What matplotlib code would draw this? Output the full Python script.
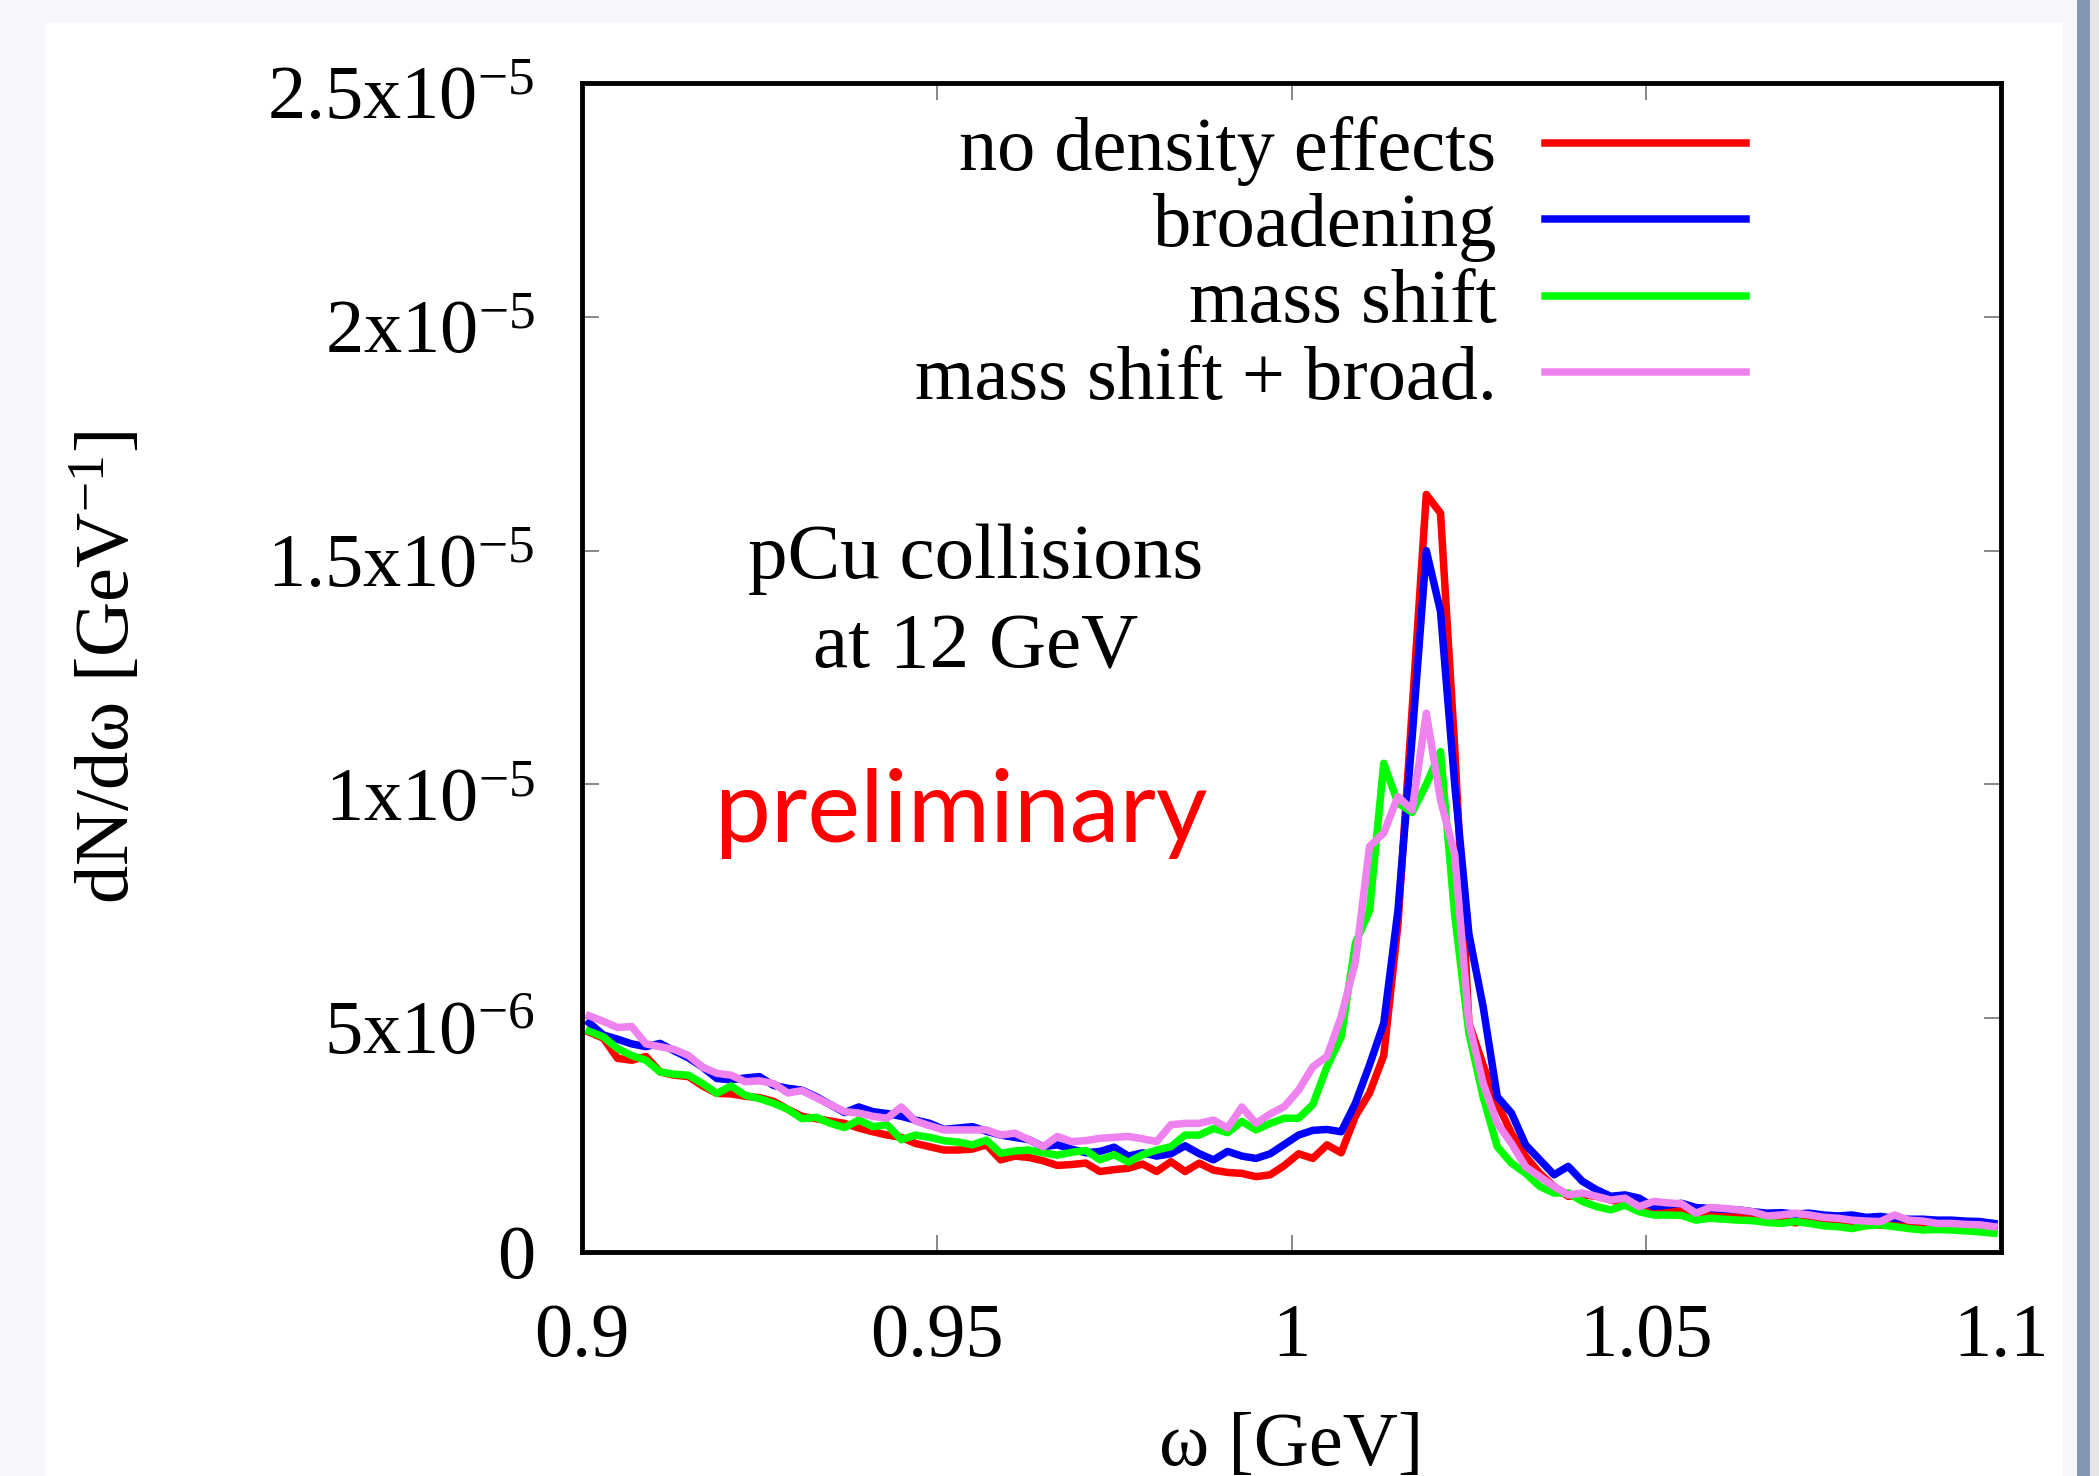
import numpy as np
import matplotlib
matplotlib.use('Agg')
import matplotlib.pyplot as plt
from matplotlib.patches import Rectangle
from matplotlib.transforms import ScaledTranslation

plt.rcParams['font.family'] = 'Liberation Serif'
plt.rcParams['mathtext.fontset'] = 'custom'
plt.rcParams['mathtext.rm'] = 'Liberation Serif'
plt.rcParams['mathtext.it'] = 'Liberation Serif:italic'

# bin centres (GeV), bins of 0.002 from 0.9 to 1.1
omega = 0.901 + 0.002 * np.arange(100)

# dN/domega in units of 1e-6 GeV^-1
no_density = [4.70, 4.57, 4.14, 4.10, 4.18, 3.85, 3.78, 3.75, 3.55, 3.39,
              3.38, 3.33, 3.30, 3.22, 3.05, 2.90, 2.85, 2.80, 2.75, 2.65,
              2.57, 2.50, 2.45, 2.32, 2.25, 2.18, 2.18, 2.20, 2.29, 1.97,
              2.05, 2.02, 1.95, 1.85, 1.87, 1.90, 1.72, 1.76, 1.79, 1.88,
              1.72, 1.93, 1.72, 1.90, 1.75, 1.70, 1.68, 1.61, 1.65, 1.85,
              2.10, 2.00, 2.29, 2.12, 2.90, 3.40, 4.20, 7.00, 11.60, 16.20,
              15.80, 10.80, 4.90, 4.00, 3.18, 2.54, 2.04, 1.68, 1.40, 1.19,
              1.22, 1.19, 1.11, 1.04, 0.92, 0.88, 0.90, 0.88, 0.78, 0.82,
              0.80, 0.78, 0.76, 0.72, 0.70, 0.62, 0.68, 0.66, 0.64, 0.60,
              0.60, 0.57, 0.62, 0.58, 0.56, 0.54, 0.53, 0.52, 0.50, 0.48]

broadening = [4.90, 4.64, 4.55, 4.45, 4.39, 4.46, 4.30, 4.15, 3.95, 3.71,
              3.68, 3.72, 3.75, 3.56, 3.50, 3.46, 3.32, 3.15, 2.98, 3.10,
              3.00, 2.96, 2.90, 2.82, 2.75, 2.62, 2.65, 2.68, 2.58, 2.50,
              2.45, 2.40, 2.25, 2.29, 2.20, 2.12, 2.15, 2.24, 2.05, 2.12,
              2.05, 2.10, 2.27, 2.10, 1.97, 2.15, 2.05, 2.00, 2.10, 2.30,
              2.50, 2.60, 2.62, 2.57, 3.18, 4.00, 4.89, 7.30, 11.00, 15.00,
              13.70, 10.00, 6.80, 5.25, 3.32, 2.97, 2.29, 1.97, 1.65, 1.83,
              1.51, 1.33, 1.19, 1.22, 1.15, 0.97, 1.00, 1.04, 0.95, 0.93,
              0.91, 0.90, 0.86, 0.83, 0.84, 0.81, 0.83, 0.79, 0.77, 0.79,
              0.74, 0.76, 0.72, 0.70, 0.70, 0.68, 0.68, 0.66, 0.65, 0.61]

mass_shift = [4.72, 4.60, 4.35, 4.20, 4.10, 3.85, 3.80, 3.78, 3.60, 3.39,
              3.55, 3.35, 3.28, 3.18, 3.05, 2.85, 2.88, 2.75, 2.66, 2.82,
              2.68, 2.72, 2.40, 2.50, 2.45, 2.38, 2.35, 2.29, 2.39, 2.11,
              2.16, 2.18, 2.12, 2.07, 2.13, 2.17, 1.97, 2.08, 1.92, 2.08,
              2.18, 2.25, 2.50, 2.50, 2.64, 2.55, 2.79, 2.61, 2.75, 2.86,
              2.86, 3.15, 3.96, 4.60, 6.60, 7.30, 10.45, 9.60, 9.40, 10.00,
              10.70, 7.20, 4.68, 3.32, 2.25, 1.90, 1.68, 1.40, 1.26, 1.26,
              1.08, 0.97, 0.90, 1.00, 0.86, 0.79, 0.79, 0.78, 0.68, 0.72,
              0.70, 0.68, 0.67, 0.63, 0.61, 0.65, 0.61, 0.56, 0.54, 0.50,
              0.56, 0.58, 0.54, 0.50, 0.47, 0.48, 0.47, 0.45, 0.43, 0.40]

shift_broad = [5.05, 4.93, 4.80, 4.82, 4.45, 4.39, 4.33, 4.20, 3.95, 3.82,
               3.78, 3.64, 3.66, 3.60, 3.40, 3.45, 3.30, 3.15, 3.00, 2.97,
               2.90, 2.86, 3.10, 2.80, 2.70, 2.61, 2.61, 2.61, 2.61, 2.50,
               2.54, 2.40, 2.25, 2.47, 2.36, 2.38, 2.43, 2.45, 2.47, 2.42,
               2.36, 2.72, 2.75, 2.75, 2.82, 2.65, 3.10, 2.75, 2.95, 3.11,
               3.46, 3.96, 4.18, 5.03, 6.20, 8.67, 8.96, 9.74, 9.45, 11.52,
               9.67, 8.50, 4.90, 3.61, 2.75, 2.32, 1.82, 1.61, 1.40, 1.22,
               1.26, 1.19, 1.11, 1.15, 0.97, 1.08, 1.05, 1.03, 0.83, 0.95,
               0.93, 0.90, 0.86, 0.77, 0.79, 0.83, 0.79, 0.74, 0.72, 0.68,
               0.66, 0.65, 0.79, 0.68, 0.66, 0.61, 0.61, 0.59, 0.58, 0.54]

series = [(no_density, 'no density effects', '#ff0000'),
          (broadening, 'broadening', '#0000ff'),
          (mass_shift, 'mass shift', '#00ff00'),
          (shift_broad, 'mass shift + broad.', '#ee82ee')]

xticks = [0.9, 0.95, 1.0, 1.05, 1.1]
xtick_labels = ['0.9', '0.95', '1', '1.05', '1.1']
yticks = [0, 5e-6, 1e-5, 1.5e-5, 2e-5, 2.5e-5]
ytick_labels = ['0', r'$\mathregular{5x10^{-6}}$', r'$\mathregular{1x10^{-5}}$',
                r'$\mathregular{1.5x10^{-5}}$', r'$\mathregular{2x10^{-5}}$',
                r'$\mathregular{2.5x10^{-5}}$']

fig = plt.figure(figsize=(20.99, 14.76), dpi=100, facecolor='#f5f7fa')
# slide background: white panel, blue side bar
fig.patches.append(Rectangle((0.0214, 0), 0.9614, 0.9844, transform=fig.transFigure,
                             facecolor='white', edgecolor='none', zorder=-10))
fig.patches.append(Rectangle((0.9895, 0), 0.0062, 1, transform=fig.transFigure,
                             facecolor='#8496b0', edgecolor='none', zorder=-10))
fig.patches.append(Rectangle((0.9957, 0), 0.0043, 1, transform=fig.transFigure,
                             facecolor='#e6e6e6', edgecolor='none', zorder=-10))

ax = fig.add_axes([0.2773, 0.1518, 0.6760, 0.7920])
ax.set_facecolor('white')

for vals, name, col in series:
    ax.plot(omega, np.array(vals) * 1e-6, color=col, lw=5.4, label=name)

ax.set_xlim(0.9, 1.1)
ax.set_ylim(0, 2.5e-5)
ax.set_xticks(xticks)
ax.set_xticklabels(xtick_labels)
ax.set_yticks(yticks)
ax.set_yticklabels(ytick_labels)
ax.minorticks_off()

for sp in ax.spines.values():
    sp.set_linewidth(3.5)
    sp.set_color('black')

ax.tick_params(direction='in', length=12, width=1.3, color='#7f7f7f',
               top=True, right=True, labelsize=55)
ax.tick_params(axis='x', pad=37)
ax.tick_params(axis='y', pad=34)

# labels with exponent sit a bit lower, like gnuplot
shift = ScaledTranslation(0, -7 / 72, fig.dpi_scale_trans)
for lab in ax.get_yticklabels()[1:]:
    lab.set_transform(lab.get_transform() + shift)

ax.set_xlabel('ω [GeV]', fontsize=55)
ax.set_ylabel(r'dN/dω [GeV$^{\mathregular{-1}}$]', fontsize=55)
ax.xaxis.set_label_coords(0.5, -0.1365)
ax.yaxis.set_label_coords(-0.308, 0.5)

ax.legend(loc='upper right', bbox_to_anchor=(0.820, 0.972), frameon=False,
          markerfirst=False, fontsize=55, handlelength=2.62, handletextpad=0.64,
          labelspacing=0.09, borderpad=0, borderaxespad=0)

ax.text(0.2777, 0.5766, 'pCu collisions', transform=ax.transAxes,
        ha='center', va='baseline', fontsize=57)
ax.text(0.2777, 0.4996, 'at 12 GeV', transform=ax.transAxes,
        ha='center', va='baseline', fontsize=57)
ax.text(0.267, 0.3507, 'preliminary', transform=ax.transAxes, color='#ff0000',
        family='Lato', ha='center', va='baseline', fontsize=72)

fig.savefig('out.png', dpi=100, facecolor=fig.get_facecolor())
